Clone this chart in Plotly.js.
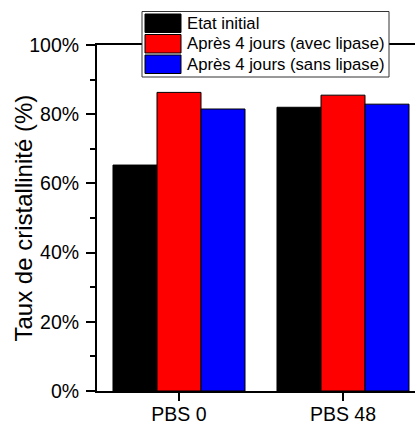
<!DOCTYPE html>
<html>
<head>
<meta charset="utf-8">
<script src="https://cdn.plot.ly/plotly-3.0.1.min.js"></script>
<style>
html, body { margin: 0; padding: 0; overflow: hidden; background: #fff; }
#chart { width: 435px; height: 427px; }
</style>
</head>
<body>
<div id="chart"></div>
<script>
// ---- data ----
const categories = ["PBS 0", "PBS 48"];
const seriesNames = ["Etat initial", "Après 4 jours (avec lipase)", "Après 4 jours (sans lipase)"];
const etatInitial = [65.3, 82.0];
const avecLipase = [86.3, 85.5];
const sansLipase = [81.5, 82.9];
const yTickVals = [0, 20, 40, 60, 80, 100];
const yTickText = ["0%", "20%", "40%", "60%", "80%", "100%"];
const yTitle = "Taux de cristallinité (%)";

// ---- style ----
const colors = ["#000000", "#ff0000", "#0000ff"];
const seriesValues = [etatInitial, avecLipase, sansLipase];
const FONT = "Arial, 'Liberation Sans', sans-serif";

const traces = seriesValues.map((vals, i) => ({
  type: "bar",
  x: categories,
  y: vals,
  name: seriesNames[i],
  marker: { color: colors[i], line: { color: "#000", width: 1 } },
  hoverinfo: "skip"
}));

// pixel -> paper helpers for the plot area
const plotL = 97, plotT = 45, plotW = 328, plotH = 346;
const px = v => (v - plotL) / plotW;
const py = v => (plotT + plotH - v) / plotH;

// custom legend box (large swatches as in the reference)
const shapes = [{
  type: "rect", xref: "paper", yref: "paper",
  x0: px(142), x1: px(389), y0: py(11.5), y1: py(77),
  fillcolor: "#fff", line: { color: "#333", width: 1 }, layer: "above"
}];
const annotations = [];
const rowTop = [14, 34.5, 55];
const rowH = 18.5;
seriesNames.forEach((name, i) => {
  shapes.push({
    type: "rect", xref: "paper", yref: "paper",
    x0: px(145), x1: px(181), y0: py(rowTop[i]), y1: py(rowTop[i] + rowH),
    fillcolor: colors[i], line: { color: "#000", width: 1 }, layer: "above"
  });
  annotations.push({
    xref: "paper", yref: "paper",
    x: px(185), y: py(rowTop[i] + rowH / 2),
    xanchor: "left", yanchor: "middle",
    text: name, showarrow: false,
    font: { family: FONT, size: 16.7, color: "#000" }
  });
});

// y-axis title (rotated)
annotations.push({
  xref: "paper", yref: "paper",
  x: px(22.5), y: 0.5,
  xanchor: "center", yanchor: "middle",
  textangle: -90,
  text: yTitle, showarrow: false,
  font: { family: FONT, size: 24, color: "#000" }
});

const layout = {
  width: 435, height: 427,
  margin: { l: plotL, t: plotT, r: 435 - plotL - plotW, b: 427 - plotT - plotH },
  paper_bgcolor: "#fff", plot_bgcolor: "#fff",
  showlegend: false,
  barmode: "group", bargap: 0.195, bargroupgap: 0,
  xaxis: {
    type: "category", range: [-0.5, 1.5],
    showline: true, linecolor: "#000", linewidth: 2, mirror: true,
    ticks: "outside", ticklen: 8, tickwidth: 2, tickcolor: "#000",
    ticklabelstandoff: -3,
    showgrid: false, zeroline: false,
    tickfont: { family: FONT, size: 19.5, color: "#000" }
  },
  yaxis: {
    range: [0, 100],
    tickvals: yTickVals, ticktext: yTickText,
    showline: true, linecolor: "#000", linewidth: 2, mirror: true,
    ticks: "outside", ticklen: 9, tickwidth: 2, tickcolor: "#000",
    ticklabelstandoff: 3,
    minor: { dtick: 10, ticks: "outside", ticklen: 5, tickwidth: 2, tickcolor: "#000", showgrid: false },
    showgrid: false, zeroline: false,
    tickfont: { family: FONT, size: 19.5, color: "#000" }
  },
  shapes: shapes,
  annotations: annotations
};

Plotly.newPlot("chart", traces, layout, { staticPlot: true, displayModeBar: false });
</script>
</body>
</html>
